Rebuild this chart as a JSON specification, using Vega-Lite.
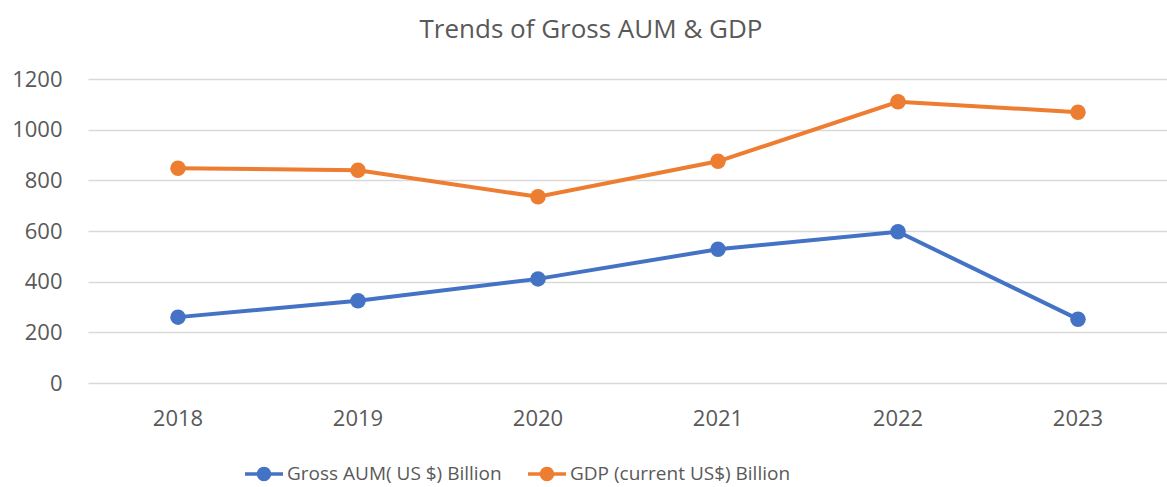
{
  "$schema": "https://vega.github.io/schema/vega-lite/v6.json",
  "width": 1080,
  "height": 304,
  "autosize": {"type": "none"},
  "padding": {"left": 88, "top": 79, "right": 0, "bottom": 104},
  "background": "white",
  "title": {
    "text": "Trends of Gross AUM & GDP",
    "font": "Open Sans",
    "fontSize": 26,
    "fontWeight": "normal",
    "color": "#595959",
    "anchor": "middle",
    "baseline": "alphabetic",
    "offset": 4,
    "dx": -37
  },
  "config": {
    "view": {"stroke": null},
    "font": "Open Sans"
  },
  "data": {
    "values": [
      {"year": "2018", "series": "Gross AUM( US $) Billion", "value": 260},
      {"year": "2019", "series": "Gross AUM( US $) Billion", "value": 325},
      {"year": "2020", "series": "Gross AUM( US $) Billion", "value": 411},
      {"year": "2021", "series": "Gross AUM( US $) Billion", "value": 528},
      {"year": "2022", "series": "Gross AUM( US $) Billion", "value": 597},
      {"year": "2023", "series": "Gross AUM( US $) Billion", "value": 252},
      {"year": "2018", "series": "GDP (current US$) Billion", "value": 848},
      {"year": "2019", "series": "GDP (current US$) Billion", "value": 840},
      {"year": "2020", "series": "GDP (current US$) Billion", "value": 735},
      {"year": "2021", "series": "GDP (current US$) Billion", "value": 875},
      {"year": "2022", "series": "GDP (current US$) Billion", "value": 1110},
      {"year": "2023", "series": "GDP (current US$) Billion", "value": 1069}
    ]
  },
  "encoding": {
    "x": {
      "field": "year",
      "type": "ordinal",
      "scale": {"type": "band", "paddingInner": 0, "paddingOuter": 0},
      "axis": {
        "title": null,
        "labelAngle": 0,
        "labelFontSize": 22,
        "labelColor": "#595959",
        "labelPadding": 25,
        "ticks": false,
        "domain": false,
        "grid": false
      }
    },
    "y": {
      "field": "value",
      "type": "quantitative",
      "scale": {"domain": [0, 1200], "nice": false},
      "axis": {
        "title": null,
        "values": [0, 200, 400, 600, 800, 1000, 1200],
        "format": "d",
        "labelFontSize": 22,
        "labelColor": "#595959",
        "labelPadding": 26,
        "ticks": false,
        "domain": false,
        "gridColor": "#D9D9D9",
        "gridWidth": 1.5
      }
    },
    "color": {
      "field": "series",
      "type": "nominal",
      "sort": ["Gross AUM( US $) Billion", "GDP (current US$) Billion"],
      "scale": {
        "domain": ["Gross AUM( US $) Billion", "GDP (current US$) Billion"],
        "range": ["#4472C4", "#ED7D31"]
      },
      "legend": {
        "title": null,
        "orient": "none",
        "direction": "horizontal",
        "legendX": 157,
        "legendY": 376,
        "symbolType": "M-1,-0.09H1V0.09H-1Z M0.38,0A0.38,0.38 0 1,1 -0.38,0A0.38,0.38 0 1,1 0.38,0Z",
        "symbolSize": 1444,
        "symbolStrokeWidth": 0,
        "labelFontSize": 19,
        "labelLimit": 0,
        "labelColor": "#595959",
        "labelOffset": 4,
        "columnPadding": 26,
        "encode": {
          "symbols": {
            "update": {
              "fill": {"scale": "color", "field": "value"},
              "stroke": {"value": "transparent"},
              "opacity": {"value": 1}
            }
          }
        }
      }
    }
  },
  "layer": [
    {
      "mark": {"type": "line", "strokeWidth": 4},
      "encoding": {}
    },
    {
      "mark": {"type": "point", "filled": true, "size": 240, "opacity": 1},
      "encoding": {}
    }
  ]
}
